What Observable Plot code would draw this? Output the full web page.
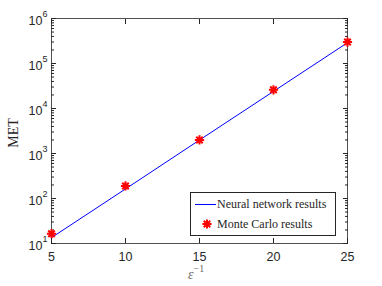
<!DOCTYPE html>
<html><head><meta charset="utf-8">
<script src="https://cdn.jsdelivr.net/npm/d3@7"></script>
<script src="https://cdn.jsdelivr.net/npm/@observablehq/plot@0.6"></script>
<style>
body{margin:0;background:#fff;}
#wrap{position:relative;width:382px;height:286px;}
.lab{position:absolute;font-family:"Liberation Serif","DejaVu Serif",serif;color:#262626;white-space:nowrap;}
</style>
</head><body><div id="wrap"></div>
<script>
const epsInv = [5, 10, 15, 20, 25];
const nnResults = [13.5, 163, 1990, 24000, 290000];
const mcResults = [16.5, 190, 2000, 26000, 300000];
const xTicks = [5, 10, 15, 20, 25];
const yDecades = [10, 100, 1000, 10000, 100000, 1000000];
const yExponents = ["1", "2", "3", "4", "5", "6"];
const yMinor = yDecades.slice(0, -1).flatMap(d => [2,3,4,5,6,7,8,9].map(k => k * d));

const nn = epsInv.map((x, i) => ({x, y: nnResults[i]}));
const mc = epsInv.map((x, i) => ({x, y: mcResults[i]}));

const asterisk8 = {draw(ctx, size) {
  const r = Math.sqrt(size / Math.PI), q = r * Math.SQRT1_2;
  ctx.moveTo(-r, 0); ctx.lineTo(r, 0);
  ctx.moveTo(0, -r); ctx.lineTo(0, r);
  ctx.moveTo(-q, -q); ctx.lineTo(q, q);
  ctx.moveTo(-q, q); ctx.lineTo(q, -q);
}};

const ink = "#262626";
const chart = Plot.plot({
  width: 382, height: 286,
  marginLeft: 51, marginRight: 35, marginTop: 18, marginBottom: 43,
  style: {fontFamily: "'Liberation Sans', Arial, sans-serif", fontSize: "12.5px", color: ink, background: "white"},
  x: {domain: [5, 25]},
  y: {type: "log", domain: [10, 1e6]},
  marks: [
    Plot.frame({stroke: ink, strokeWidth: 0.8}),
    Plot.axisX({anchor: "bottom", ticks: xTicks, tickSize: -5, tickFormat: () => "", label: null, stroke: ink}),
    Plot.axisX({anchor: "top", ticks: xTicks, tickSize: -5, tickFormat: () => "", label: null, stroke: ink}),
    Plot.axisX({anchor: "bottom", ticks: xTicks, tickSize: 0, tickPadding: 9, label: null, fill: ink, fontSize: 12.5}),
    Plot.axisY({anchor: "left", ticks: yDecades, tickSize: -5, tickFormat: () => "", label: null, stroke: ink}),
    Plot.axisY({anchor: "right", ticks: yDecades, tickSize: -5, tickFormat: () => "", label: null, stroke: ink}),
    Plot.axisY({anchor: "left", ticks: yMinor, tickSize: -3, tickFormat: () => "", label: null, stroke: ink}),
    Plot.axisY({anchor: "right", ticks: yMinor, tickSize: -3, tickFormat: () => "", label: null, stroke: ink}),
    Plot.text(yDecades, {y: d => d, frameAnchor: "left", text: () => "10", textAnchor: "end", dx: -9, dy: 2, fontSize: 12.5, fill: ink}),
    Plot.text(yDecades, {y: d => d, frameAnchor: "left", text: (d, i) => yExponents[i], textAnchor: "start", dx: -9, dy: -4, fontSize: 9, fill: ink}),
    Plot.line(nn, {x: "x", y: "y", stroke: "#0000ff", strokeWidth: 1}),
    Plot.dot(mc, {x: "x", y: "y", symbol: asterisk8, r: 4.6, stroke: "#ff0000", strokeWidth: 2})
  ]
});
const wrap = document.getElementById("wrap");
wrap.appendChild(chart);

function addLabel(html, css) {
  const d = document.createElement("div");
  d.className = "lab"; d.innerHTML = html; d.style.cssText += css; wrap.appendChild(d); return d;
}
addLabel("MET", "left:14px;top:133px;font-size:14px;transform:translate(-50%,-50%) rotate(-90deg);transform-origin:center;line-height:1;");
addLabel("<i>ε</i><sup style='font-size:10px;position:relative;top:-1px'>−1</sup>", "left:188px;top:265px;font-size:14px;line-height:1;color:#6a6a6a;");

const legend = document.createElement("div");
legend.style.cssText = "position:absolute;left:190px;top:192px;width:144px;height:42px;background:#fff;border:1px solid #262626;";
legend.innerHTML = `
<svg width="144" height="42" style="position:absolute;left:0;top:0">
  <line x1="4" x2="25" y1="11.5" y2="11.5" stroke="#0000ff" stroke-width="1"/>
  <g transform="translate(16,31)" stroke="#ff0000" stroke-width="2">
    <line x1="-4.6" x2="4.6" y1="0" y2="0"/><line y1="-4.6" y2="4.6" x1="0" x2="0"/>
    <line x1="-3.25" y1="-3.25" x2="3.25" y2="3.25"/><line x1="-3.25" y1="3.25" x2="3.25" y2="-3.25"/>
  </g>
</svg>
<div class="lab" style="left:26px;top:4px;font-size:12px;line-height:14px">Neural network results</div>
<div class="lab" style="left:26px;top:24px;font-size:12px;line-height:14px">Monte Carlo results</div>`;
wrap.appendChild(legend);
</script></body></html>
